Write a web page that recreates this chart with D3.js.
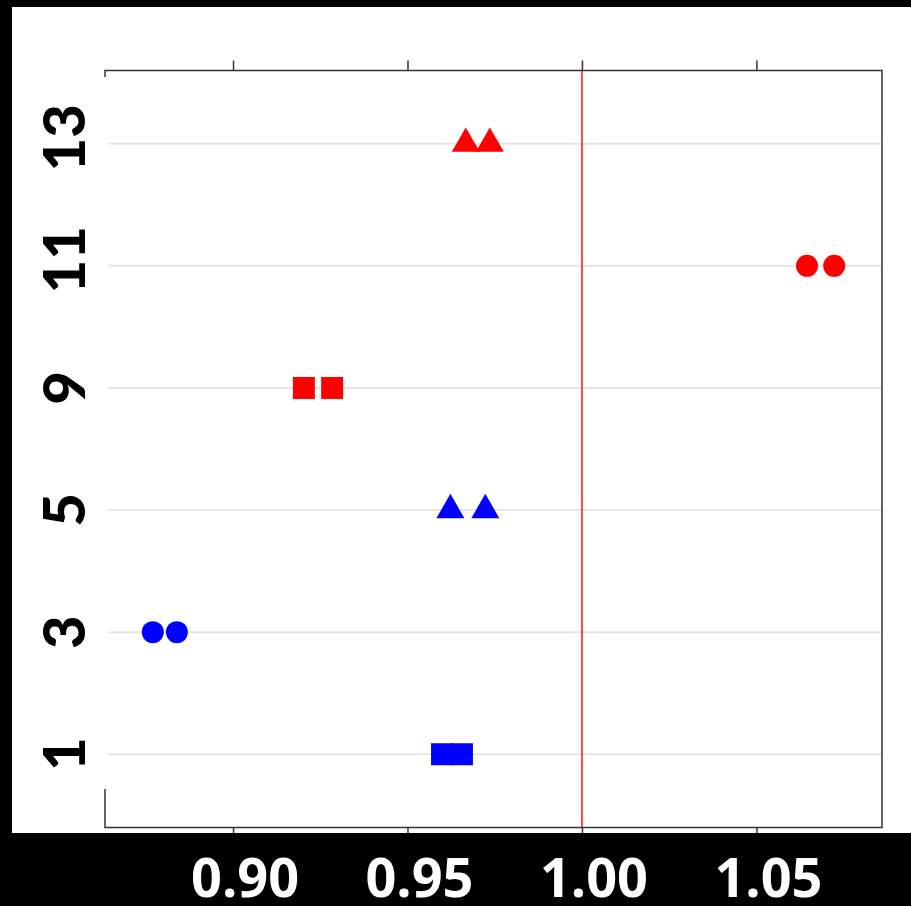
<!DOCTYPE html>
<html>
<head>
<meta charset="utf-8">
<script src="https://cdn.jsdelivr.net/npm/d3@7"></script>
<style>
  body { margin: 0; background: #fff; }
</style>
</head>
<body>
<div id="chart"></div>
<script>
// categories on the y axis, bottom to top
const categories = ["1", "3", "5", "9", "11", "13"];
const groups = ["low", "low", "low", "high", "high", "high"];
// two estimates per category
const valuesLeft = [0.9599, 0.8770, 0.9623, 0.9203, 1.0645, 0.9667];
const valuesRight = [0.9656, 0.8839, 0.9723, 0.9284, 1.0723, 0.9736];
const xTicks = [0.90, 0.95, 1.00, 1.05];
const refValue = 1.0;

const W = 911, H = 906;
const plot = { left: 105, right: 882, top: 70.5, bottom: 827.5 };

const svg = d3.select("#chart").append("svg")
  .attr("width", W)
  .attr("height", H);

const x = d3.scaleLinear().domain([0.8633, 1.0860]).range([plot.left, plot.right]);
const y = d3.scalePoint().domain(categories).range([plot.bottom, plot.top]).padding(0.6);

const color = d3.scaleOrdinal().domain(["low", "high"]).range(["#0000ff", "#ff0000"]);
const shape = d3.scaleOrdinal()
  .domain(categories)
  .range([d3.symbolSquare, d3.symbolCircle, d3.symbolTriangle, d3.symbolSquare, d3.symbolCircle, d3.symbolTriangle]);
const symSize = { square: 484, circle: 380, triangle: 340 };
function sizeOf(sym) {
  if (sym === d3.symbolSquare) return symSize.square;
  if (sym === d3.symbolCircle) return symSize.circle;
  return symSize.triangle;
}

// frame
svg.append("rect").attr("width", W).attr("height", H).attr("fill", "#fff");

// gridlines
svg.append("g")
  .selectAll("line")
  .data(categories)
  .join("line")
  .attr("x1", plot.left + 3)
  .attr("x2", plot.right)
  .attr("y1", d => y(d))
  .attr("y2", d => y(d))
  .attr("stroke", "#e6e6e6")
  .attr("stroke-width", 2);

// reference line
svg.append("line")
  .attr("x1", x(refValue)).attr("x2", x(refValue))
  .attr("y1", plot.top).attr("y2", plot.bottom)
  .attr("stroke", "#ff2020")
  .attr("stroke-width", 1.6);

// points
const pts = [];
categories.forEach((c, i) => {
  pts.push({ cat: c, group: groups[i], v: valuesLeft[i] });
  pts.push({ cat: c, group: groups[i], v: valuesRight[i] });
});
svg.append("g")
  .selectAll("path")
  .data(pts)
  .join("path")
  .attr("transform", d => `translate(${x(d.v)},${y(d.cat)})`)
  .attr("d", d => d3.symbol().type(shape(d.cat)).size(sizeOf(shape(d.cat)))())
  .attr("fill", d => color(d.group));

// box
svg.append("rect")
  .attr("x", plot.left).attr("y", plot.top)
  .attr("width", plot.right - plot.left)
  .attr("height", plot.bottom - plot.top)
  .attr("fill", "none")
  .attr("stroke", "#333")
  .attr("stroke-width", 1.5);

// top ticks
svg.append("g")
  .attr("transform", `translate(0,${plot.top})`)
  .call(d3.axisTop(x).tickValues(xTicks).tickSize(10).tickFormat(""))
  .call(g => g.select(".domain").remove())
  .selectAll("line").attr("stroke", "#333").attr("stroke-width", 1.5);

// bottom ticks
svg.append("g")
  .attr("transform", `translate(0,${plot.bottom})`)
  .call(d3.axisBottom(x).tickValues(xTicks).tickSize(8).tickFormat(""))
  .call(g => g.select(".domain").remove())
  .selectAll("line").attr("stroke", "#333").attr("stroke-width", 1.5);

// white patch over the left spine where the y labels sit
svg.append("rect")
  .attr("x", 11).attr("y", 77)
  .attr("width", 96).attr("height", 712)
  .attr("fill", "#fff");

// black borders
svg.append("rect").attr("x", 0).attr("y", 0).attr("width", W).attr("height", 7).attr("fill", "#000");
svg.append("rect").attr("x", 0).attr("y", 0).attr("width", 12).attr("height", H).attr("fill", "#000");
svg.append("rect").attr("x", 0).attr("y", 833).attr("width", W).attr("height", H - 833).attr("fill", "#000");

// y labels
svg.append("g")
  .selectAll("text")
  .data(categories)
  .join("text")
  .attr("transform", d => `translate(85,${y(d) - (d.length > 1 ? 6 : 0)}) rotate(-90)`)
  .attr("text-anchor", "middle")
  .attr("font-family", "Lato, sans-serif")
  .attr("font-weight", 900)
  .attr("font-size", 58)
  .attr("fill", "#000")
  .text(d => d);

// x labels
svg.append("g")
  .selectAll("text")
  .data(xTicks)
  .join("text")
  .attr("x", d => x(d) + 12)
  .attr("y", 897)
  .attr("text-anchor", "middle")
  .attr("font-family", "'Open Sans', sans-serif")
  .attr("font-weight", 700)
  .attr("font-size", 54)
  .attr("fill", "#fff")
  .text(d => d3.format(".2f")(d));
</script>
</body>
</html>
